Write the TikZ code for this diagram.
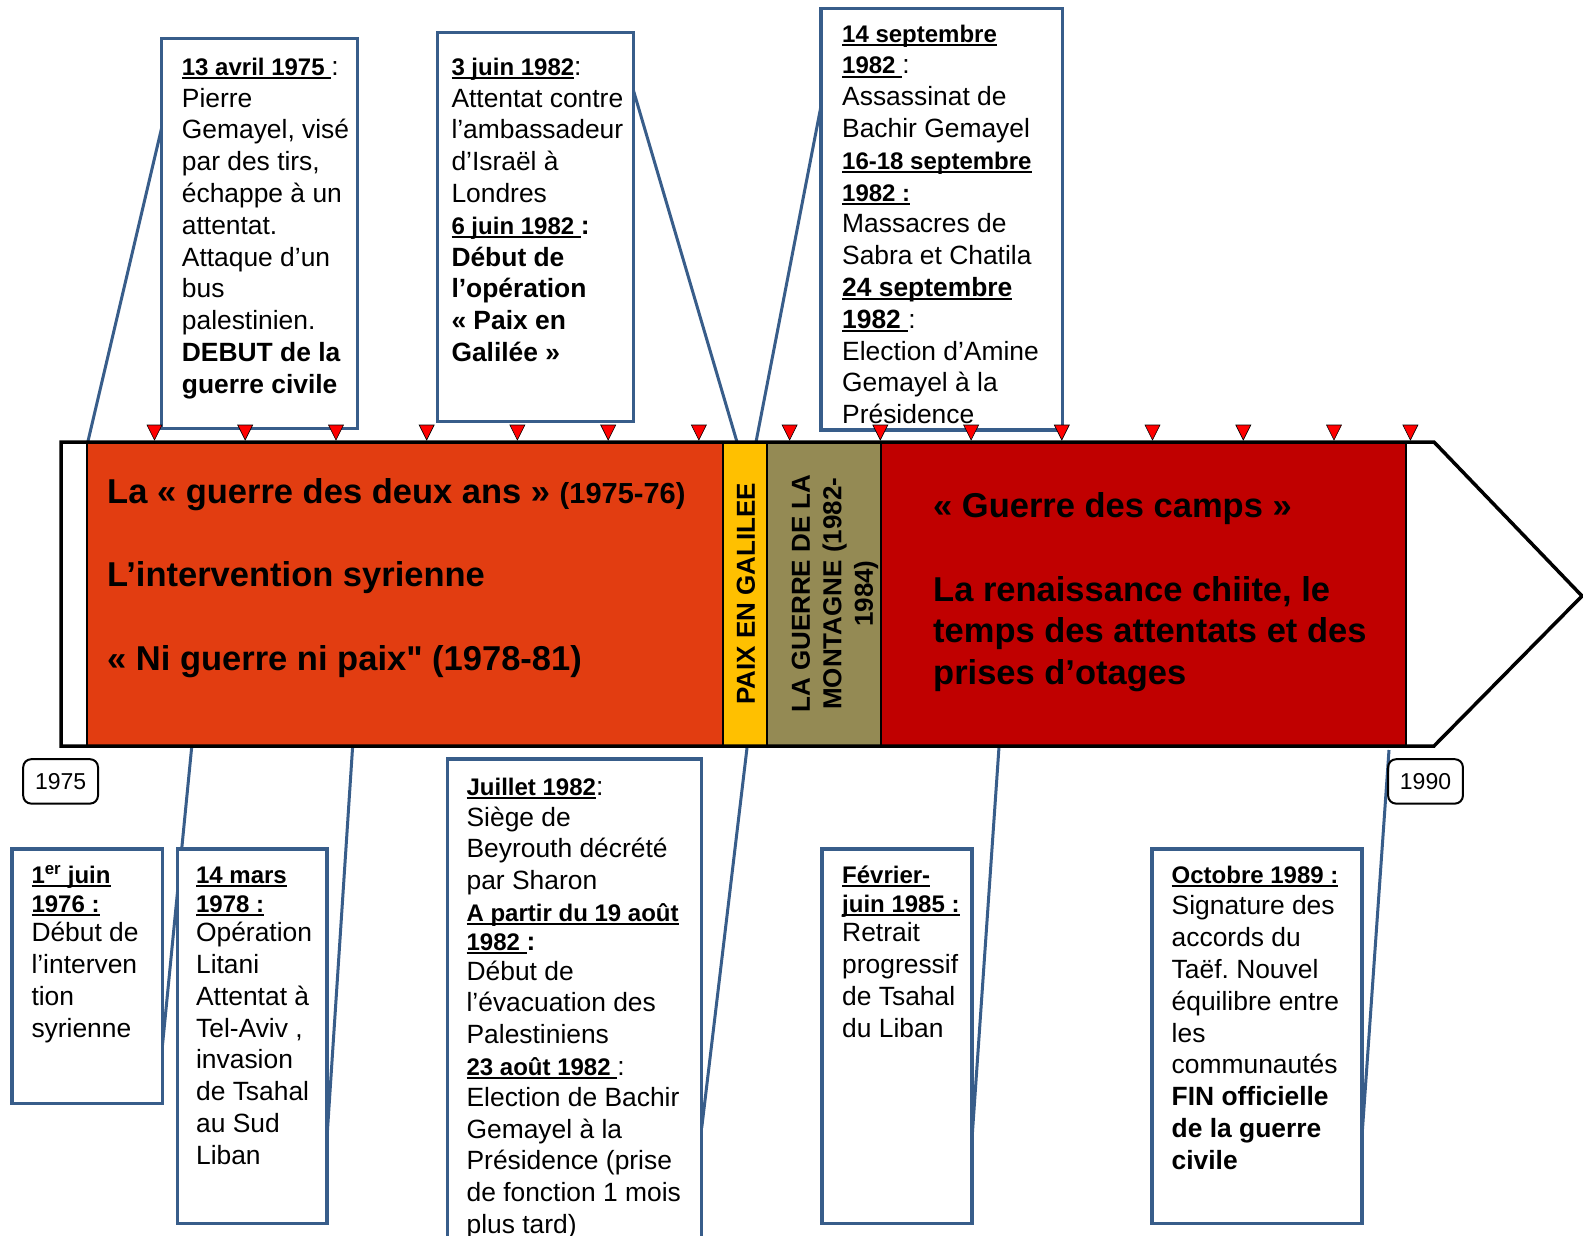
\documentclass[tikz,border=0pt]{standalone}
\usepackage{fontspec}
\setmainfont{Liberation Sans}[Ligatures=ResetAll]
\usetikzlibrary{positioning}
\frenchspacing

\definecolor{calloutblue}{HTML}{385D8A}
\definecolor{phaseorange}{HTML}{E23D11}
\definecolor{phaseyellow}{HTML}{FFC000}
\definecolor{phaseolive}{HTML}{948A54}
\definecolor{phasered}{HTML}{C00000}

\pgfdeclarelayer{behind}
\pgfsetlayers{behind,main}

% underlined dates
\newcommand{\udl}[1]{\setbox0=\hbox{#1}\rlap{\rule[-4pt]{\wd0}{2.2pt}}\box0}
\newcommand{\dte}[1]{\strut{\fontsize{24}{31.8}\selectfont\bfseries\udl{#1}}}
\newcommand{\dtel}[1]{\strut{\bfseries\udl{#1}}}
\newcommand{\straightq}{\XeTeXglyph\XeTeXcharglyph"22\relax}

\tikzset{
    evbox/.style={draw=calloutblue, line width=3.5pt, fill=white,
        rectangle, outer sep=0pt, inner sep=0pt, anchor=north west},
    evtext/.style={anchor=north west, inner sep=0pt, align=left,
        font=\fontsize{26.4}{31.8}\selectfont},
    pointer/.style={draw=calloutblue, line width=3pt},
    yearbox/.style={draw, line width=2pt, rounded corners=8pt,
        minimum width=74.8pt, minimum height=44.4pt, inner sep=0pt,
        font=\fontsize{23}{28}\selectfont},
    phasetext/.style={anchor=north west, inner sep=0pt, align=left,
        font=\fontsize{34.5}{41.7}\selectfont\bfseries},
    vertext/.style={rotate=90, inner sep=0pt, align=center,
        font=\fontsize{26}{31.4}\selectfont\bfseries},
}

\begin{document}
\begin{tikzpicture}[x=1pt, y=-1pt]

    \useasboundingbox (0,0) rectangle (1583,1235);

    % the time band
    \fill[white] (61,442) -- (1434,442) -- (1582,596) -- (1434,746) -- (61,746) -- cycle;
    \draw[fill=phaseorange, line width=1.5pt] (87,442) rectangle (723,746);
    \draw[fill=phaseyellow, line width=1.5pt] (723,442) rectangle (767,746);
    \draw[fill=phaseolive, line width=1.5pt] (767,442) rectangle (881,746);
    \draw[fill=phasered, line width=1.5pt] (881,442) rectangle (1406,746);
    \draw[line width=3.5pt, line join=miter]
        (61,442) -- (1434,442) -- (1582,596) -- (1434,746) -- (61,746) -- cycle;

    \node[phasetext] (phase1) at (107,473.1)
        {\rule{0pt}{30pt}La « guerre des deux ans » {\fontsize{29}{41.7}\selectfont(1975-76)}\\
        \\
        L’intervention syrienne\\
        \\
        « Ni guerre ni paix\straightq{} (1978-81)};
    \node[vertext] (paix) at (746,593.7) {PAIX EN GALILEE};
    \node[vertext] (montagne) at (835,593.6)
        {LA GUERRE DE LA\\MONTAGNE (1982-\\1984)};
    \node[phasetext] (camps) at (933,487.4)
        {\rule{0pt}{30pt}« Guerre des camps »\\
        \\
        La renaissance chiite, le\\
        temps des attentats et des\\
        prises d’otages};

    % event boxes above
    \node[evbox, minimum width=195.9pt, minimum height=390.1pt] (boxA) at (161.5,38.4) {};
    \node[evtext, below right=14.5pt and 20.2pt of boxA.north west] (textA)
        {\dte{13 avril 1975 }:\\
        Pierre\\
        Gemayel, visé\\
        par des tirs,\\
        échappe à un\\
        attentat.\\
        Attaque d’un\\
        bus\\
        palestinien.\\
        \textbf{DEBUT de la}\\
        \textbf{guerre civile}};

    \node[evbox, minimum width=195.6pt, minimum height=389pt] (boxB) at (437.7,32.7) {};
    \node[evtext, below right=20.2pt and 13.6pt of boxB.north west] (textB)
        {\dte{3 juin 1982}:\\
        Attentat contre\\
        l’ambassadeur\\
        d’Israël à\\
        Londres\\
        \dte{6 juin 1982 }{\bfseries :}\\
        \textbf{Début de}\\
        \textbf{l’opération}\\
        \textbf{« Paix en}\\
        \textbf{Galilée »}};

    \node[evbox, minimum width=241.7pt, minimum height=421.7pt] (boxC) at (821,8.3) {};
    \node[evtext, below right=11.3pt and 21pt of boxC.north west] (textC)
        {\dte{14 septembre}\\
        \dte{1982 }:\\
        Assassinat de\\
        Bachir Gemayel\\
        \dte{16-18 septembre}\\
        \dte{1982 :}\\
        Massacres de\\
        Sabra et Chatila\\
        \dtel{24 septembre}\\
        \dtel{1982 }:\\
        Election d’Amine\\
        Gemayel à la\\
        Présidence};

    % event boxes below
    \node[evbox, minimum width=150.4pt, minimum height=254.5pt] (boxD) at (12.1,849) {};
    \node[evtext, below right=11.6pt and 19.2pt of boxD.north west] (textD)
        {\dte{1\textsuperscript{er} juin}\\[-2.5pt]
        \dte{1976 :}\\[-2.5pt]
        Début de\\
        l’interven\\
        tion\\
        syrienne};

    \node[evbox, minimum width=149.4pt, minimum height=374.7pt] (boxE) at (177.7,849) {};
    \node[evtext, below right=11.6pt and 18.2pt of boxE.north west] (textE)
        {\dte{14 mars}\\[-2.5pt]
        \dte{1978 :}\\[-2.5pt]
        Opération\\
        Litani\\
        Attentat à\\
        Tel-Aviv ,\\
        invasion\\
        de Tsahal\\
        au Sud\\
        Liban};

    \node[evbox, minimum width=254.4pt, minimum height=491pt] (boxF) at (447.3,759) {};
    \node[evtext, below right=13.8pt and 19.1pt of boxF.north west] (textF)
        {\dte{Juillet 1982}:\\[-1pt]
        Siège de\\
        Beyrouth décrété\\
        par Sharon\\
        \dte{A partir du 19 août}\\[-3pt]
        \dte{1982 }{\bfseries :}\\[-2pt]
        Début de\\
        l’évacuation des\\
        Palestiniens\\
        \dte{23 août 1982 }:\\[-1pt]
        Election de Bachir\\
        Gemayel à la\\
        Présidence (prise\\
        de fonction 1 mois\\
        plus tard)};

    \node[evbox, minimum width=150.4pt, minimum height=374.7pt] (boxG) at (821.8,849) {};
    \node[evtext, below right=11.6pt and 20.2pt of boxG.north west] (textG)
        {\dte{Février-}\\[-2.5pt]
        \dte{juin 1985 :}\\[-2.5pt]
        Retrait\\
        progressif\\
        de Tsahal\\
        du Liban};

    \node[evbox, minimum width=210pt, minimum height=374.7pt] (boxH) at (1152,849) {};
    \node[evtext, below right=11.6pt and 19.5pt of boxH.north west] (textH)
        {\dte{Octobre 1989 :}\\
        Signature des\\
        accords du\\
        Taëf. Nouvel\\
        équilibre entre\\
        les\\
        communautés\\
        \textbf{FIN officielle}\\
        \textbf{de la guerre}\\
        \textbf{civile}};

    % callout pointers, behind the boxes
    \coordinate (bandA) at (87.8,442);
    \coordinate (bandB) at (737,442);
    \coordinate (bandC) at (756,442);
    \coordinate (bandD) at (191.6,748);
    \coordinate (bandE) at (352.6,747);
    \coordinate (bandF) at (747,748);
    \coordinate (bandG) at (999,747);
    \coordinate (bandH) at (1389,750);
    \begin{pgfonlayer}{behind}
        \fill[white] (0,0) rectangle (1583,1235);
        \draw[pointer] ([yshift=-90.1pt]boxA.north west) -- (bandA);
        \draw[pointer] ([yshift=-57.3pt]boxB.north east) -- (bandB);
        \draw[pointer] ([yshift=-97.7pt]boxC.north west) -- (bandC);
        \draw[pointer] ([yshift=-196pt]boxD.north east) -- (bandD);
        \draw[pointer] ([yshift=-287pt]boxE.north east) -- (bandE);
        \draw[pointer] ([yshift=-369pt]boxF.north east) -- (bandF);
        \draw[pointer] ([yshift=-287pt]boxG.north east) -- (bandG);
        \draw[pointer] ([yshift=-287pt]boxH.north east) -- (bandH);
    \end{pgfonlayer}

    % tick marks
    \foreach \x in {154.5,245.2,336,426.7,517.4,608.2,698.9,789.6,880.3,971.1,1061.8,1152.5,1243.3,1334,1410.4}
        \filldraw[fill=red, draw=black, line width=0.6pt]
            (\x-7.5,425) -- ++(15,0) -- ++(-7.5,15) -- cycle;

    \node[yearbox] (y1975) at (60.6,781.4) {1975};
    \node[yearbox] (y1990) at (1425.5,781.4) {1990};

\end{tikzpicture}
\end{document}
